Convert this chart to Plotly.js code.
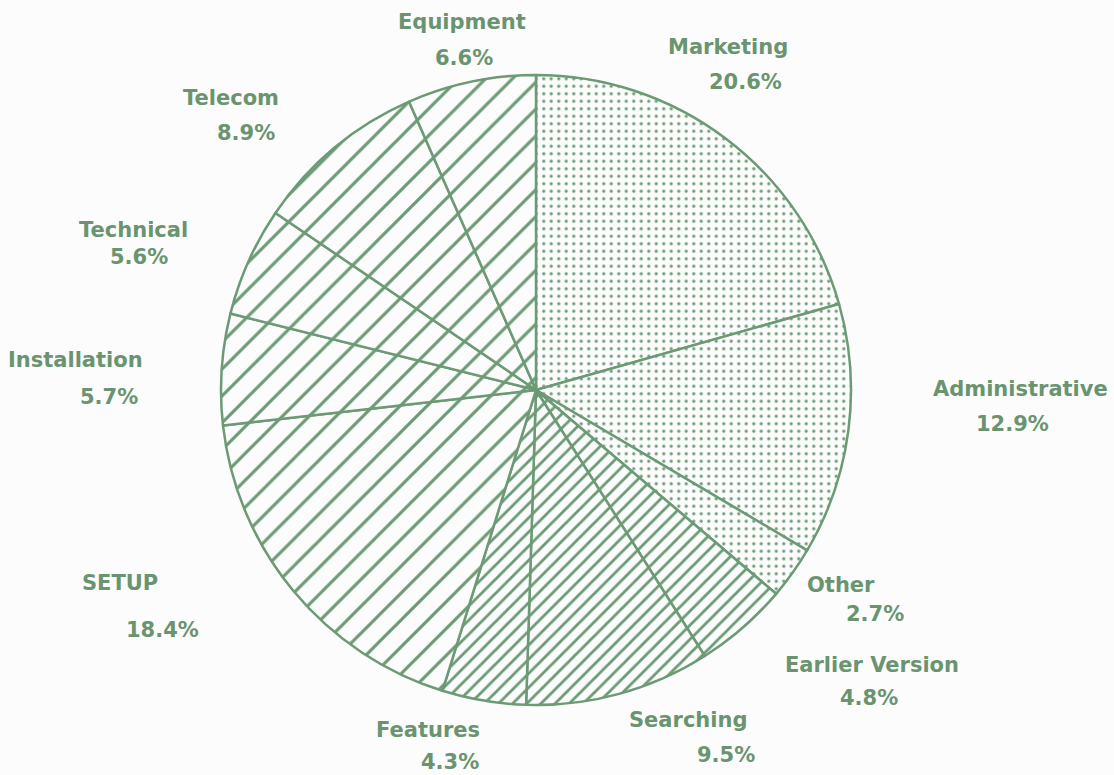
<!DOCTYPE html>
<html>
<head>
<meta charset="utf-8">
<script src="https://cdn.plot.ly/plotly-3.0.1.min.js"></script>
<style>
  html, body { margin: 0; padding: 0; background: #fbfcfb; }
  #chart { width: 1114px; height: 775px; }
</style>
</head>
<body>
<div id="chart"></div>
<script>
// ---- data ----
var categories = ["Marketing", "Administrative", "Other", "Earlier Version", "Searching",
                  "Features", "SETUP", "Installation", "Technical", "Telecom", "Equipment"];
var shares = [20.6, 12.9, 2.7, 4.8, 9.5, 4.3, 18.4, 5.7, 5.6, 8.9, 6.6];
var fillKinds = ["dots", "dots", "dots", "dense", "dense", "dense",
                 "sparse", "sparse", "sparse", "sparse", "sparse"];

// ---- styles / label placement (pixels in the 1114x775 page) ----
var W = 1114, H = 775;
var green = "#6b9a74";
var textGreen = "#6a9470";
var labelPos = [
  [728, 47, 745, 82],     // Marketing
  [1020, 389, 1012, 424], // Administrative
  [841, 585, 875, 614],   // Other
  [872, 665, 869, 698],   // Earlier Version
  [688, 720, 726, 755],   // Searching
  [428, 730, 450, 762],   // Features
  [120, 583, 162, 630],   // SETUP
  [75, 360, 109, 397],    // Installation
  [133, 230, 139, 257],   // Technical
  [231, 98, 246, 133],    // Telecom
  [462, 22, 464, 58]      // Equipment
];
var patternStyles = {
  dots:   {shape: ".", size: 7.5, solidity: 0.15},
  dense:  {shape: "/", size: 10, solidity: 0.28},
  sparse: {shape: "/", size: 19, solidity: 0.16}
};

var cx = 536, cy = 390, R = 315;

var trace = {
  type: "pie",
  labels: categories,
  values: shares,
  sort: false,
  direction: "clockwise",
  rotation: 0,
  textinfo: "none",
  hoverinfo: "label+percent",
  domain: {x: [(cx - R) / W, (cx + R) / W], y: [1 - (cy + R) / H, 1 - (cy - R) / H]},
  marker: {
    colors: categories.map(function () { return "#fbfcfb"; }),
    line: {color: green, width: 2.5},
    pattern: {
      shape: fillKinds.map(function (k) { return patternStyles[k].shape; }),
      size: fillKinds.map(function (k) { return patternStyles[k].size; }),
      solidity: fillKinds.map(function (k) { return patternStyles[k].solidity; }),
      fgcolor: green,
      bgcolor: "#fbfcfb",
      fillmode: "replace"
    }
  }
};

var fontSpec = {family: "DejaVu Sans", size: 21, color: textGreen, weight: "bold"};
var annotations = [];
categories.forEach(function (name, i) {
  var p = labelPos[i];
  annotations.push({
    text: name, xref: "paper", yref: "paper",
    x: p[0] / W, y: 1 - p[1] / H, xanchor: "center", yanchor: "middle",
    showarrow: false, font: fontSpec
  });
  annotations.push({
    text: shares[i].toFixed(1) + "%", xref: "paper", yref: "paper",
    x: p[2] / W, y: 1 - p[3] / H, xanchor: "center", yanchor: "middle",
    showarrow: false, font: fontSpec
  });
});

var layout = {
  width: W, height: H,
  margin: {l: 0, r: 0, t: 0, b: 0},
  paper_bgcolor: "#fbfcfb",
  plot_bgcolor: "#fbfcfb",
  showlegend: false,
  annotations: annotations
};

Plotly.newPlot("chart", [trace], layout, {displayModeBar: false, staticPlot: true});
</script>
</body>
</html>
